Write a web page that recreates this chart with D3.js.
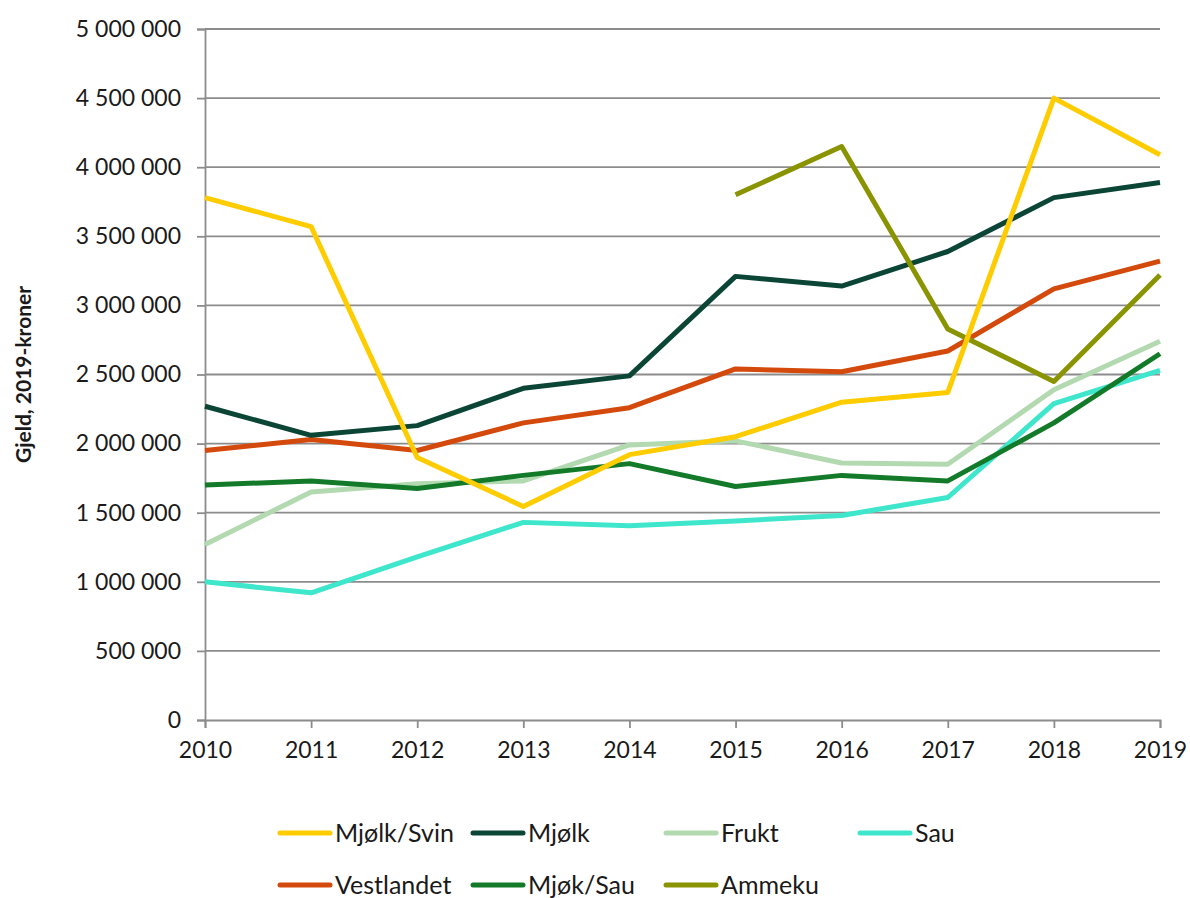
<!DOCTYPE html>
<html>
<head>
<meta charset="utf-8">
<script src="https://cdn.jsdelivr.net/npm/d3@7"></script>
<style>
    body { margin: 0; background: #fff; }
    text { font-family: Lato, "Noto Sans", sans-serif; fill: #1a1a1a; }
</style>
</head>
<body>
<div id="chart"></div>
<script>
const YEARS = [2010, 2011, 2012, 2013, 2014, 2015, 2016, 2017, 2018, 2019];

const SERIES_NAMES = ["Mjølk/Svin", "Mjølk", "Frukt", "Sau", "Vestlandet", "Mjøk/Sau", "Ammeku"];

const MJOLK_SVIN = [3780000, 3570000, 1900000, 1545000, 1920000, 2050000, 2300000, 2370000, 4500000, 4090000];
const MJOLK      = [2270000, 2060000, 2130000, 2400000, 2490000, 3210000, 3140000, 3390000, 3780000, 3890000];
const FRUKT      = [1270000, 1650000, 1710000, 1730000, 1990000, 2020000, 1860000, 1850000, 2390000, 2740000];
const SAU        = [1000000,  920000, 1180000, 1430000, 1405000, 1440000, 1480000, 1610000, 2290000, 2530000];
const VESTLANDET = [1950000, 2030000, 1950000, 2150000, 2260000, 2540000, 2520000, 2670000, 3120000, 3320000];
const MJOK_SAU   = [1700000, 1730000, 1675000, 1770000, 1855000, 1690000, 1770000, 1730000, 2150000, 2650000];
const AMMEKU     = [null, null, null, null, null, 3800000, 4150000, 2830000, 2450000, 3220000];

const Y_TICKS = [0, 500000, 1000000, 1500000, 2000000, 2500000, 3000000, 3500000, 4000000, 4500000, 5000000];

const COLORS = ["#ffcc00", "#0b4536", "#b3d9b0", "#3ee6cc", "#d44a0c", "#137a2a", "#8a9400"];

const WIDTH  = 1190;
const HEIGHT = 898;
const PLOT   = { left: 205, right: 1160, top: 29, bottom: 720 };

const seriesData = [MJOLK_SVIN, MJOLK, FRUKT, SAU, VESTLANDET, MJOK_SAU, AMMEKU];

// Draw order: as in the original, Ammeku and Mjølk/Svin on top
const drawOrder = [3, 2, 5, 4, 1, 6, 0];

const locale = d3.formatLocale({ decimal: ",", thousands: " ", grouping: [3], currency: ["", ""] });
const fmt    = locale.format(",d");

const svg = d3.select("#chart")
    .append("svg")
    .attr("width", WIDTH)
    .attr("height", HEIGHT);

const x = d3.scaleLinear()
    .domain([YEARS[0], YEARS[YEARS.length - 1]])
    .range([PLOT.left, PLOT.right]);

const y = d3.scaleLinear()
    .domain([0, 5000000])
    .range([PLOT.bottom, PLOT.top]);

// Gridlines
svg.append("g")
    .selectAll("line")
    .data(Y_TICKS.slice(1))
    .join("line")
    .attr("x1", PLOT.left)
    .attr("x2", PLOT.right)
    .attr("y1", (d) => y(d))
    .attr("y2", (d) => y(d))
    .attr("stroke", "#8c8c8c")
    .attr("stroke-width", 1.8);

// Y axis
const yAxis = svg.append("g")
    .attr("transform", "translate(" + PLOT.left + ",0)")
    .call(d3.axisLeft(y).tickValues(Y_TICKS).tickFormat(fmt).tickSize(8).tickPadding(16));

// X axis
const xAxis = svg.append("g")
    .attr("transform", "translate(0," + PLOT.bottom + ")")
    .call(d3.axisBottom(x).tickValues(YEARS).tickFormat(d3.format("d")).tickSize(8).tickPadding(14));

[yAxis, xAxis].forEach((axis) => {
    axis.select(".domain").attr("stroke", "#8c8c8c").attr("stroke-width", 1.8);
    axis.selectAll(".tick line").attr("stroke", "#8c8c8c").attr("stroke-width", 1.8);
    axis.selectAll(".tick text")
        .style("font-family", "Lato, 'Noto Sans', sans-serif")
        .style("font-size", "23px")
        .attr("fill", "#1a1a1a");
});

// Y axis title
svg.append("text")
    .attr("transform", "translate(31," + ((PLOT.top + PLOT.bottom) / 2) + ") rotate(-90)")
    .attr("text-anchor", "middle")
    .style("font-size", "21px")
    .style("font-weight", "bold")
    .text("Gjeld, 2019-kroner");

// Lines
const line = d3.line()
    .defined((d) => d !== null)
    .x((d, i) => x(YEARS[i]))
    .y((d) => y(d));

svg.append("g")
    .selectAll("path")
    .data(drawOrder)
    .join("path")
    .attr("d", (k) => line(seriesData[k]))
    .attr("fill", "none")
    .attr("stroke", (k) => COLORS[k])
    .attr("stroke-width", 5)
    .attr("stroke-linejoin", "round");

// Legend
const legendCols = [280, 473, 666, 860];
const legendRows = [833, 885];

const legend = svg.append("g")
    .selectAll("g")
    .data(SERIES_NAMES)
    .join("g")
    .attr("transform", (d, i) => "translate(" + legendCols[i % 4] + "," + legendRows[Math.floor(i / 4)] + ")");

legend.append("line")
    .attr("x1", 0)
    .attr("x2", 50)
    .attr("stroke", (d, i) => COLORS[i])
    .attr("stroke-width", 5)
    .attr("stroke-linecap", "round");

legend.append("text")
    .attr("x", 55)
    .attr("dy", "0.35em")
    .style("font-size", "25px")
    .text((d) => d);
</script>
</body>
</html>
